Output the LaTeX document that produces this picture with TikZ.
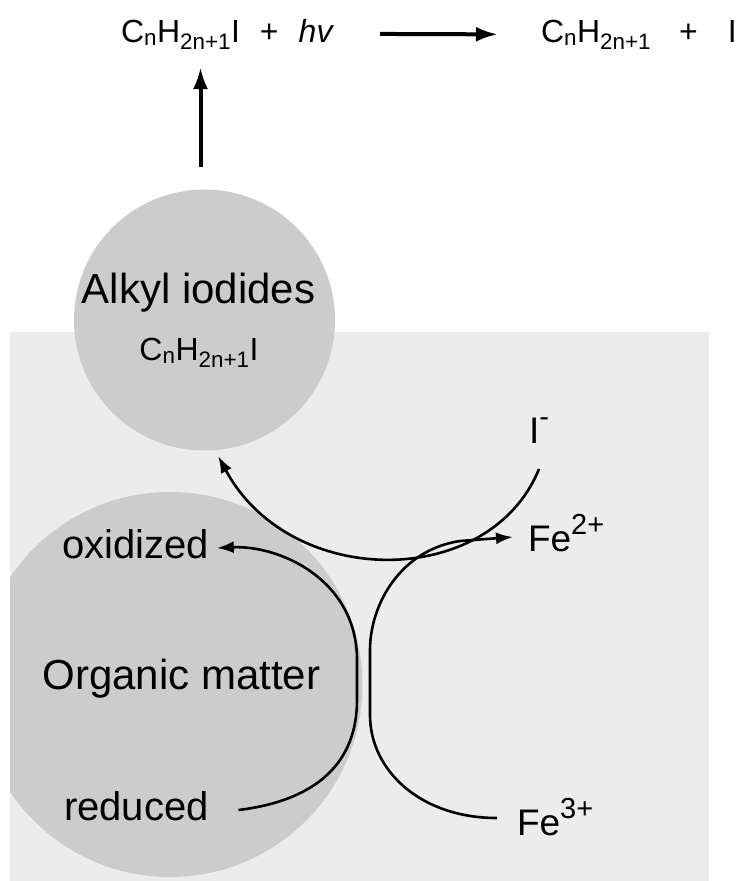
\documentclass[tikz,border=0pt]{standalone}
\usepackage{fontspec}
\setmainfont{Liberation Sans}
\usetikzlibrary{arrows.meta}
\definecolor{bggray}{HTML}{ECECEC}
\definecolor{circgray}{HTML}{CCCCCC}
\newcommand\bigtxt{\fontsize{42}{48}\selectfont}
\newcommand\midtxt{\fontsize{40}{46}\selectfont}
\newcommand\iontxt{\fontsize{37}{42}\selectfont}
\newcommand\eqtxt{\fontsize{32}{36}\selectfont}
\newcommand\supr[1]{\raisebox{17pt}{\fontsize{29}{30}\selectfont #1}}
\begin{document}
\begin{tikzpicture}[x=1pt,y=-1pt,
  lbl/.style={inner sep=0pt, outer sep=0pt},
  blob/.style={circle, fill=circgray, inner sep=0pt},
  straightarrow/.style={line width=4pt, -{Latex[length=22pt,width=15pt]}},
  curvearrow/.style={line width=2.6pt, -{Latex[length=17pt,width=12pt]}}]
\useasboundingbox (0,0) rectangle (742,881);
% background panel
\fill[bggray] (10,332) rectangle (709,881);
% organic matter blob (clipped at the panel's left edge)
\begin{scope}
  \clip (10,0) rectangle (742,881);
  \node[blob, minimum size=385pt] (organic) at (170,684.5) {};
\end{scope}
\node[blob, minimum size=261pt] (alkyl) at (204.5,320) {};

% texts
\node[lbl, font=\bigtxt, anchor=base] (alkname) at (198.5,303) {Alkyl iodides};
\node[lbl, font=\eqtxt, anchor=base] (alkform) at (199,360) {C\textsubscript{n}H\textsubscript{2n+1}I};
\node[lbl, font=\bigtxt, anchor=base] (orgname) at (181.5,689) {Organic matter};
\node[lbl, font=\midtxt, anchor=base west] (oxid) at (62,558) {oxidized};
\node[lbl, font=\midtxt, anchor=base west] (red) at (64,820) {reduced};
\node[lbl, font=\iontxt, anchor=base west] (iminus) at (529,443) {I\supr{-}};
\node[lbl, font=\iontxt, anchor=base west] (fe2) at (528,551) {Fe\supr{2+}};
\node[lbl, font=\iontxt, anchor=base west] (fe3) at (517,835) {Fe\supr{3+}};
\node[lbl, font=\eqtxt, anchor=base west] (eqL) at (121,42)
  {C\textsubscript{n}H\textsubscript{2n+1}I\hspace{20pt}+\hspace{20pt}\textit{hv}};
\node[lbl, font=\eqtxt, anchor=base west] (eqR) at (541,42)
  {C\textsubscript{n}H\textsubscript{2n+1}\hspace{28pt}+\hspace{30pt}I};

% top reaction arrow
\draw[straightarrow] ([xshift=46pt]eqL.east) -- ([xshift=-43pt]eqR.west);
% vertical arrow from alkyl iodides to the photolysis equation
\coordinate (upfoot) at ([shift={(-4pt,22pt)}]alkyl.north);
\path (upfoot |- eqL.south) coordinate (upbase);
\draw[straightarrow] (upfoot) -- ([yshift=-18pt]upbase);

% I- -> alkyl iodides
\draw[curvearrow] ([yshift=-26pt]iminus.south) .. controls (490,590) and (290,590) .. ([yshift=-6pt]alkyl.-84);
% Fe3+ -> Fe2+
\draw[curvearrow] ([xshift=-20pt,yshift=17pt]fe3.base west) .. controls (420,818) and (370,770) .. (370,715)
  -- (370,650) .. controls (370,605) and (400,550) .. (460,541) -- ([xshift=-15pt,yshift=14pt]fe2.base west);
% reduced -> oxidized organic matter
\draw[curvearrow] ([xshift=30pt,yshift=10pt]red.base east) .. controls (320,800) and (357,760) .. (357,700)
  -- (357,660) .. controls (357,580) and (280,545) .. ([xshift=8pt,yshift=10pt]oxid.base east);
\end{tikzpicture}
\end{document}
